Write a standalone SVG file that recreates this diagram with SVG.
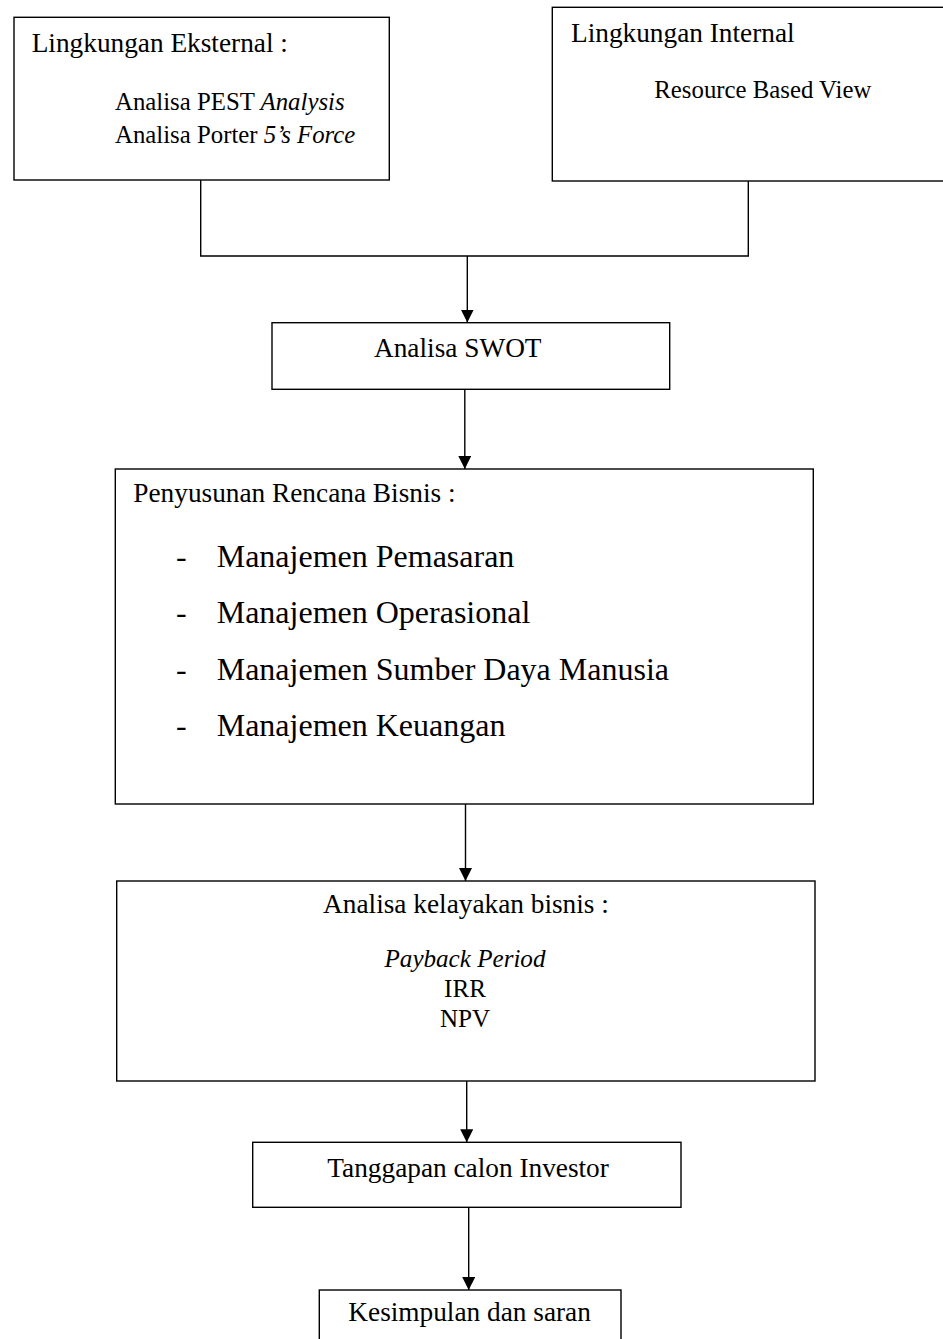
<svg xmlns="http://www.w3.org/2000/svg" width="943" height="1339" viewBox="0 0 943 1339">
<style>
.box{fill:#fff;stroke:#000;stroke-width:1.4}
.con{fill:none;stroke:#000;stroke-width:1.4}
text{font-family:"Liberation Serif","Times New Roman",serif;fill:#000}
.h{font-size:27.3px}
.s{font-size:24.8px}
.b{font-size:32px}
.i{font-style:italic}
</style>
<defs>
<marker id="arr" markerUnits="userSpaceOnUse" markerWidth="13" markerHeight="13" refX="13" refY="6.5" orient="auto">
<path d="M0,0 L13,6.5 L0,13 z" fill="#000"/>
</marker>
</defs>
<rect width="943" height="1339" fill="#fff"/>
<g id="connectors">
<polyline class="con" points="200.7,180 200.7,256 748.3,256 748.3,181"/>
<line class="con" x1="467.3" y1="256" x2="467.3" y2="322.5" marker-end="url(#arr)"/>
<line class="con" x1="464.8" y1="389" x2="464.8" y2="469" marker-end="url(#arr)"/>
<line class="con" x1="465.5" y1="804" x2="465.5" y2="881" marker-end="url(#arr)"/>
<line class="con" x1="466.7" y1="1081" x2="466.7" y2="1142.3" marker-end="url(#arr)"/>
<line class="con" x1="468.7" y1="1207.3" x2="468.7" y2="1290" marker-end="url(#arr)"/>
</g>
<g id="eksternal">
<rect class="box" x="14" y="17.3" width="375.3" height="162.7"/>
<text class="h" x="31.7" y="51.7">Lingkungan Eksternal :</text>
<text class="s" x="115" y="110">Analisa PEST <tspan class="i">Analysis</tspan></text>
<text class="s" x="115" y="143.3">Analisa Porter <tspan class="i">5’s Force</tspan></text>
</g>
<g id="internal">
<rect class="box" x="552.3" y="7.3" width="400" height="173.7"/>
<text class="h" x="571" y="41.7">Lingkungan Internal</text>
<text class="s" x="654.3" y="98.3">Resource Based View</text>
</g>
<g id="swot">
<rect class="box" x="272" y="322.7" width="397.7" height="66.6"/>
<text class="h" x="374" y="356.7">Analisa SWOT</text>
</g>
<g id="rencana">
<rect class="box" x="115.3" y="469" width="698" height="335"/>
<text class="h" x="133.3" y="502.3">Penyusunan Rencana Bisnis :</text>
<text class="b" x="176" y="566.7">-</text>
<text class="b" x="216.7" y="566.7">Manajemen Pemasaran</text>
<text class="b" x="176" y="623.3">-</text>
<text class="b" x="216.7" y="623.3">Manajemen Operasional</text>
<text class="b" x="176" y="680">-</text>
<text class="b" x="216.7" y="680">Manajemen Sumber Daya Manusia</text>
<text class="b" x="176" y="736">-</text>
<text class="b" x="216.7" y="736">Manajemen Keuangan</text>
</g>
<g id="kelayakan">
<rect class="box" x="116.7" y="881" width="698.3" height="200"/>
<text class="h" x="466" y="913.3" text-anchor="middle">Analisa kelayakan bisnis :</text>
<text class="s i" x="465" y="967.3" text-anchor="middle" style="font-size:25.1px">Payback Period</text>
<text class="s" x="465" y="997.3" text-anchor="middle" style="font-size:25.1px">IRR</text>
<text class="s" x="465" y="1026.7" text-anchor="middle" style="font-size:25.1px">NPV</text>
</g>
<g id="investor">
<rect class="box" x="252.7" y="1142.3" width="428.3" height="65"/>
<text class="h" x="327.3" y="1176.7">Tanggapan calon Investor</text>
</g>
<g id="kesimpulan">
<rect class="box" x="319.3" y="1290" width="301.7" height="70"/>
<text class="h" x="348.3" y="1320.7">Kesimpulan dan saran</text>
</g>
</svg>
